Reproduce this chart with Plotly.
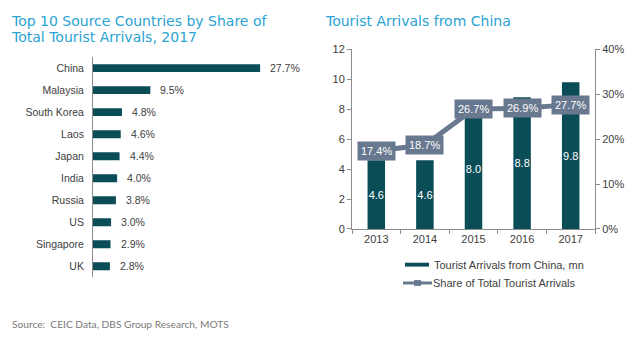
import plotly.graph_objects as go

# ---- data ----
countries = ["China", "Malaysia", "South Korea", "Laos", "Japan", "India", "Russia", "US", "Singapore", "UK"]
shares = [27.7, 9.5, 4.8, 4.6, 4.4, 4.0, 3.8, 3.0, 2.9, 2.8]

years = ["2013", "2014", "2015", "2016", "2017"]
arrivals_mn = [4.6, 4.6, 8.0, 8.8, 9.8]
share_total = [0.174, 0.187, 0.267, 0.269, 0.277]

W, H = 640, 344
def px(x):
    return x / W
def py(y):
    return 1 - y / H

BAR = "#0b4d57"
LINE = "#67788f"
TXT = "#404040"
AX = "#8c8c8c"
TFONT = "Liberation Sans, Arial"
HFONT = "DejaVu Sans, Open Sans, sans-serif"
HCOL = "#2aa3d3"

yr_idx = list(range(len(years)))
n_cat = len(countries)

fig = go.Figure()

# left: horizontal bars
fig.add_trace(go.Bar(
    x=shares, y=countries, orientation="h", xaxis="x", yaxis="y",
    marker=dict(color=BAR, line=dict(width=0)), width=0.36,
    showlegend=False,
))

# right: bars
fig.add_trace(go.Bar(
    x=yr_idx, y=arrivals_mn, xaxis="x2", yaxis="y2",
    marker=dict(color=BAR, line=dict(width=0)), width=0.36,
    text=[f"{v:.1f}" for v in arrivals_mn], textposition="inside", constraintext="none",
    insidetextanchor="middle", textangle=0,
    textfont=dict(color="white", size=11, family=TFONT),
    showlegend=False,
))
# right: line
fig.add_trace(go.Scatter(
    x=yr_idx, y=share_total, xaxis="x2", yaxis="y3", mode="lines+markers",
    line=dict(color=LINE, width=5), marker=dict(color=LINE, size=8, symbol="square"),
    showlegend=False,
))

annotations = []
# left bar value labels
for c, v in zip(countries, shares):
    annotations.append(dict(
        x=v, y=c, xref="x", yref="y", text=f"{v:.1f}%", showarrow=False,
        xanchor="left", yanchor="middle", xshift=8,
        font=dict(color=TXT, size=10.5, family=TFONT),
    ))
# line labels
for i, s in zip(yr_idx, share_total):
    annotations.append(dict(
        x=i, y=s, xref="x2", yref="y3", text=f"{s*100:.1f}%", showarrow=False,
        font=dict(color="white", size=11, family=TFONT),
        bgcolor=LINE, borderpad=3,
    ))

# titles
annotations.append(dict(x=px(9), y=py(15.5), xref="paper", yref="paper", xanchor="left", yanchor="middle",
    text="Top 10 Source Countries by Share of", showarrow=False, align="left",
    font=dict(family=HFONT, size=14, color=HCOL)))
annotations.append(dict(x=px(9), y=py(32), xref="paper", yref="paper", xanchor="left", yanchor="middle",
    text="Total Tourist Arrivals, 2017", showarrow=False, align="left",
    font=dict(family=HFONT, size=14, color=HCOL)))
annotations.append(dict(x=px(323), y=py(15.5), xref="paper", yref="paper", xanchor="left", yanchor="middle",
    text="Tourist Arrivals from China", showarrow=False, align="left",
    font=dict(family=HFONT, size=14, color=HCOL)))
annotations.append(dict(x=px(10), y=py(329), xref="paper", yref="paper", xanchor="left", yanchor="middle",
    text="Source:  CEIC Data, DBS Group Research, MOTS", showarrow=False,
    font=dict(family="Lato, Open Sans, sans-serif", size=10.2, color="#7a7a7a")))

# manual legend
annotations.append(dict(x=px(432), y=py(268), xref="paper", yref="paper", xanchor="left", yanchor="middle",
    text="Tourist Arrivals from China, mn", showarrow=False, font=dict(family=TFONT, size=11, color=TXT)))
annotations.append(dict(x=px(431), y=py(287), xref="paper", yref="paper", xanchor="left", yanchor="middle",
    text="Share of Total Tourist Arrivals", showarrow=False, font=dict(family=TFONT, size=11, color=TXT)))
shapes = [
    dict(type="rect", xref="paper", yref="paper", x0=px(405), x1=px(429), y0=py(270), y1=py(266),
         fillcolor=BAR, line=dict(width=0)),
    dict(type="line", xref="paper", yref="paper", x0=px(403), x1=px(432), y0=py(287), y1=py(287),
         line=dict(color=LINE, width=3)),
    dict(type="rect", xref="paper", yref="paper", x0=px(414), x1=px(421), y0=py(290), y1=py(284),
         fillcolor=LINE, line=dict(width=0)),
]

bounds = [i - 0.5 for i in yr_idx] + [yr_idx[-1] + 0.5]

fig.update_layout(
    width=W, height=H, margin=dict(l=0, r=0, t=0, b=0),
    paper_bgcolor="white", plot_bgcolor="white",
    font=dict(family=TFONT, size=11, color=TXT),
    annotations=annotations, shapes=shapes,
    xaxis=dict(domain=[px(93), px(274)], range=[0, 30], visible=False),
    yaxis=dict(domain=[py(281), py(53)], range=[n_cat - 0.5, -0.5], type="category",
               showline=True, linecolor=AX, linewidth=1, ticks="", showgrid=False,
               ticklabelstandoff=6, tickfont=dict(size=10.5, color=TXT), zeroline=False),
    xaxis2=dict(domain=[px(352), px(595)], anchor="y2", range=[-0.5, len(years) - 0.5],
                tickvals=yr_idx, ticktext=years, ticks="", tickangle=0,
                minor=dict(tickvals=bounds, ticks="outside", ticklen=4, tickcolor=AX),
                showline=True, linecolor=AX, linewidth=1, showgrid=False, zeroline=False,
                tickfont=dict(size=11, color=TXT)),
    yaxis2=dict(domain=[py(231), py(45)], anchor="x2", range=[0, 12], dtick=2,
                showline=True, linecolor=AX, linewidth=1, ticks="outside", ticklen=4, tickcolor=AX,
                showgrid=False, zeroline=False, tickfont=dict(size=11, color=TXT)),
    yaxis3=dict(overlaying="y2", anchor="x2", side="right", range=[0, 0.4], dtick=0.1, tickformat=".0%",
                showline=True, linecolor=AX, linewidth=1, ticks="outside", ticklen=4, tickcolor=AX,
                showgrid=False, zeroline=False, tickfont=dict(size=11, color=TXT)),
)

fig.write_html("out.html")
